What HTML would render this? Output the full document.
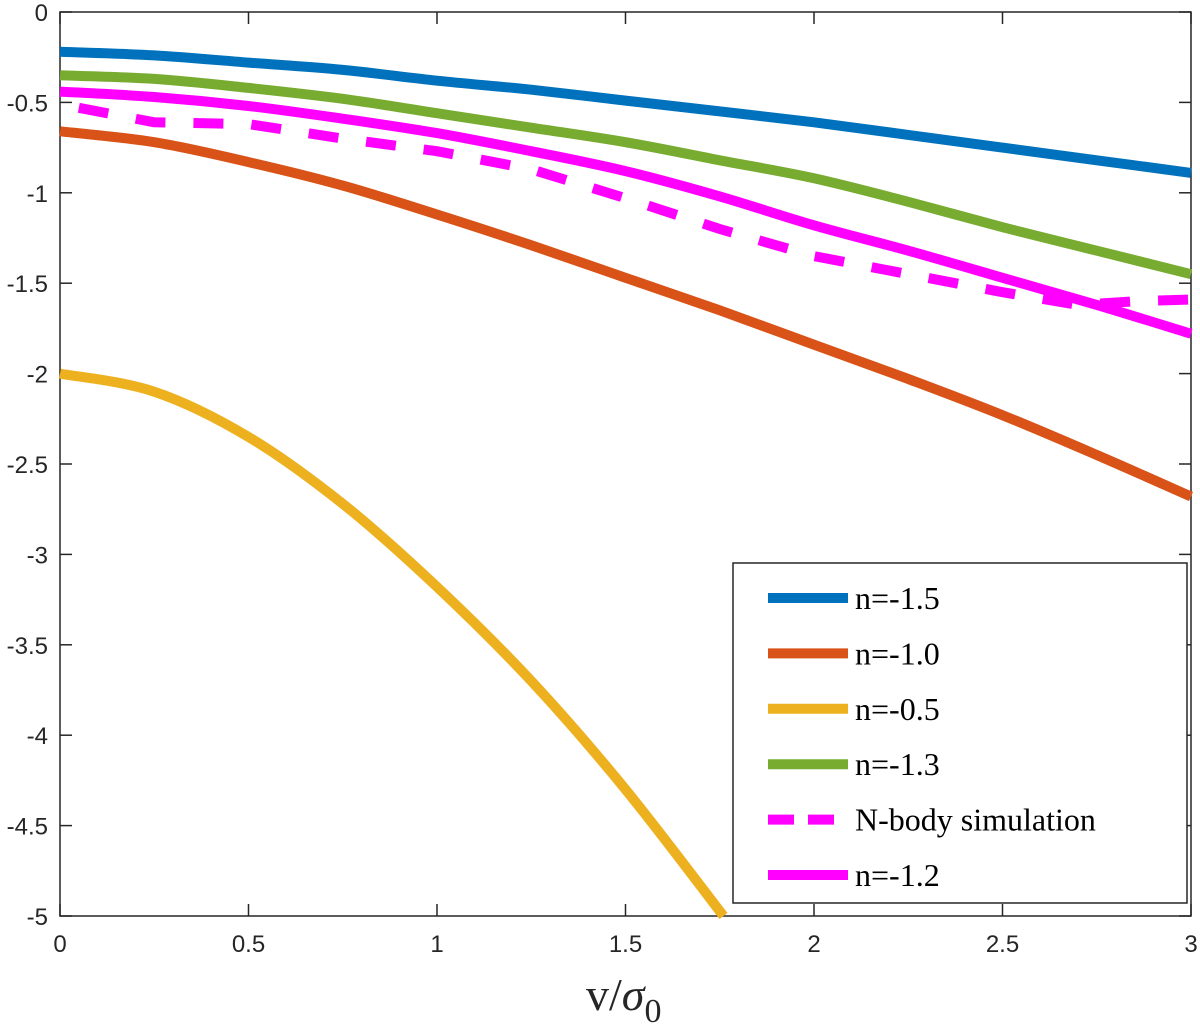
<!DOCTYPE html>
<html><head><meta charset="utf-8"><style>
body{margin:0;background:#fff}
svg text{font-family:"Liberation Sans",sans-serif;fill:#262626}
</style></head><body>
<svg id="chart" width="1200" height="1028" xmlns="http://www.w3.org/2000/svg">
<g id="axes"></g>
<g id="series"></g>
<g id="legend"></g>
<text x="586" y="1010" style="font-family:'Liberation Serif',serif;font-size:46px">v/<tspan font-style="italic">σ</tspan><tspan dy="12" font-size="34">0</tspan></text>
</svg>
<script>
const xTicks=[0,0.5,1,1.5,2,2.5,3];
const xTickLabels=["0","0.5","1","1.5","2","2.5","3"];
const yTicks=[0,-0.5,-1,-1.5,-2,-2.5,-3,-3.5,-4,-4.5,-5];
const yTickLabels=["0","-0.5","-1","-1.5","-2","-2.5","-3","-3.5","-4","-4.5","-5"];
const xGrid=[0,0.25,0.5,0.75,1,1.25,1.5,1.75,2,2.25,2.5,2.75,3];
const blue=[-0.22,-0.24,-0.28,-0.32,-0.38,-0.43,-0.49,-0.55,-0.61,-0.68,-0.75,-0.82,-0.89];
const orange=[-0.66,-0.72,-0.83,-0.96,-1.12,-1.29,-1.47,-1.65,-1.84,-2.03,-2.23,-2.45,-2.68];
const green=[-0.35,-0.37,-0.42,-0.48,-0.56,-0.64,-0.72,-0.82,-0.92,-1.05,-1.19,-1.32,-1.45];
const magenta=[-0.44,-0.47,-0.52,-0.59,-0.67,-0.77,-0.88,-1.02,-1.18,-1.32,-1.47,-1.62,-1.78];
const yellowX=[0,0.25,0.5,0.75,1,1.25,1.5,1.76];
const yellow=[-2.0,-2.1,-2.35,-2.72,-3.18,-3.7,-4.3,-5.0];
const nbodyX=[0.05,0.25,0.5,0.75,1,1.25,1.5,1.75,2,2.25,2.5,2.7,2.85,3];
const nbody=[-0.53,-0.61,-0.62,-0.7,-0.77,-0.87,-1.03,-1.2,-1.35,-1.45,-1.55,-1.62,-1.6,-1.59];
const legendLabels=["n=-1.5","n=-1.0","n=-0.5","n=-1.3","N-body simulation","n=-1.2"];

const L=60,R=1191,T=12,B=916;
const sx=v=>L+(v-0)/3*(R-L);
const sy=v=>T+(0-v)/5*(B-T);
const NS="http://www.w3.org/2000/svg";
function mk(tag,attrs,parent){const e=document.createElementNS(NS,tag);for(const k in attrs)e.setAttribute(k,attrs[k]);parent.appendChild(e);return e;}
const axes=document.getElementById('axes'),series=document.getElementById('series'),legend=document.getElementById('legend');
let frame=mk('rect',{x:L,y:T,width:R-L,height:B-T,fill:'none',stroke:'#262626','stroke-width':1.5},axes);


xTicks.forEach((v,i)=>{
 const x=sx(v);
 let t=mk('line',{x1:x,x2:x,y1:B,y2:B-12,stroke:'#262626','stroke-width':1.5},axes);
 
 
 let t2=mk('line',{x1:x,x2:x,y1:T,y2:T+12,stroke:'#262626','stroke-width':1.5},axes);
 
 
 let lb=mk('text',{x:x,y:B+36,'text-anchor':'middle','font-size':24},axes);lb.textContent=xTickLabels[i];
 
 
});
yTicks.forEach((v,i)=>{
 const y=sy(v);
 let t=mk('line',{x1:L,x2:L+12,y1:y,y2:y,stroke:'#262626','stroke-width':1.5},axes);
 
 
 let t2=mk('line',{x1:R,x2:R-12,y1:y,y2:y,stroke:'#262626','stroke-width':1.5},axes);
 
 
 let lb=mk('text',{x:L-12,y:y+9,'text-anchor':'end','font-size':24},axes);lb.textContent=yTickLabels[i];
 
 
});
function smoothPath(P){
 let d='M'+P[0][0].toFixed(1)+','+P[0][1].toFixed(1);
 for(let i=0;i<P.length-1;i++){
  const p0=P[Math.max(0,i-1)],p1=P[i],p2=P[i+1],p3=P[Math.min(P.length-1,i+2)];
  const c1=[p1[0]+(p2[0]-p0[0])/6,p1[1]+(p2[1]-p0[1])/6];
  const c2=[p2[0]-(p3[0]-p1[0])/6,p2[1]-(p3[1]-p1[1])/6];
  d+=' C'+c1.map(v=>v.toFixed(1)).join(',')+' '+c2.map(v=>v.toFixed(1)).join(',')+' '+p2[0].toFixed(1)+','+p2[1].toFixed(1);
 }
 return d;
}
function line(xs,ys,color,name,dash){
 const P=xs.map((x,i)=>[sx(x),sy(ys[i])]);
 const p=mk('path',{d:dash?('M'+P.map(q=>q[0].toFixed(1)+','+q[1].toFixed(1)).join(' L')):smoothPath(P),fill:'none',stroke:color,'stroke-width':10,'stroke-linejoin':'round'},series);
 if(dash)p.setAttribute('stroke-dasharray','30 28');
 
 
}
line(xGrid,blue,'#0072bd','series-n-1.5');
line(xGrid,orange,'#d95319','series-n-1.0');
line(yellowX,yellow,'#edb120','series-n-0.5');
line(xGrid,green,'#77ac30','series-n-1.3');
line(nbodyX,nbody,'#ff00ff','series-nbody',true);
line(xGrid,magenta,'#ff00ff','series-n-1.2');
let box=mk('rect',{x:733,y:563,width:454,height:340,fill:'#fff',stroke:'#262626','stroke-width':1.5},legend);


const lcolors=['#0072bd','#d95319','#edb120','#77ac30','#ff00ff','#ff00ff'];
legendLabels.forEach((s,i)=>{
 const y=598+i*55.4;
 const ln=mk('line',{x1:768,x2:848,y1:y,y2:y,stroke:lcolors[i],'stroke-width':10},legend);
 if(i===4)ln.setAttribute('stroke-dasharray','26 14');
 
 
 const t=mk('text',{x:855,y:y+11,'font-size':32,style:"font-family:'Liberation Serif',serif;fill:#000"},legend);
 t.textContent=s;
 
 
});
</script>
</body></html>
